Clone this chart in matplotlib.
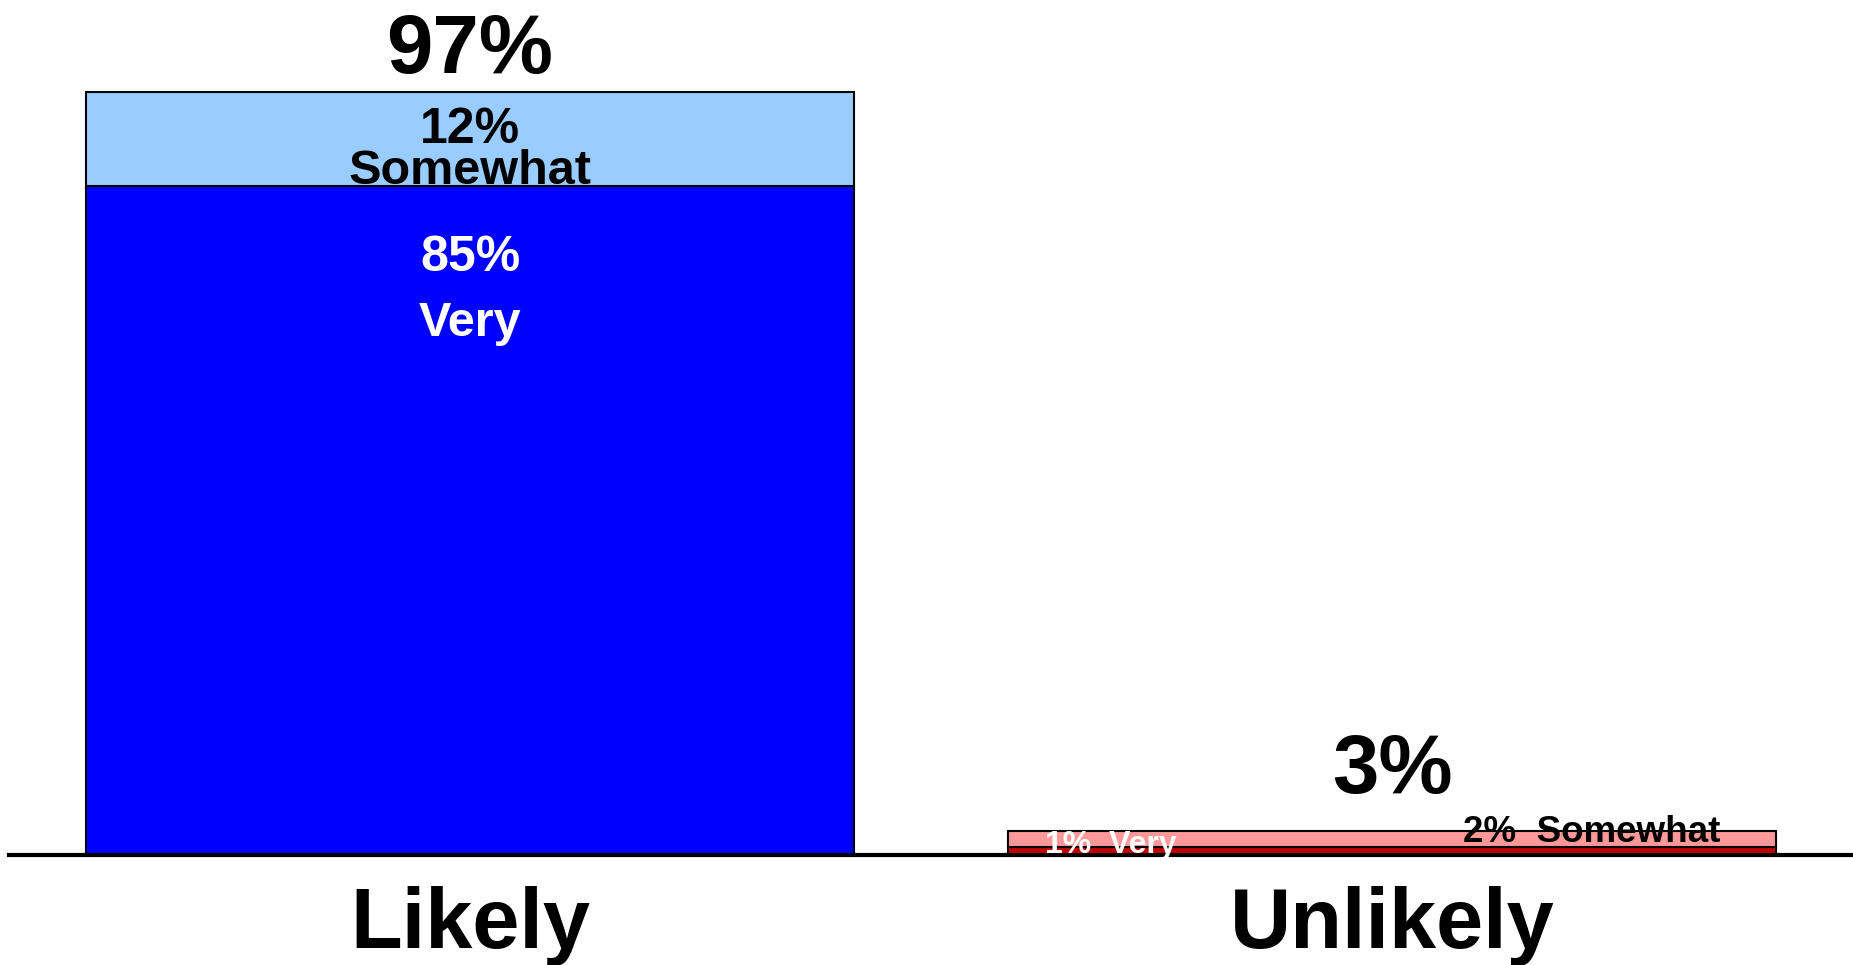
import matplotlib
matplotlib.use('Agg')
import matplotlib.pyplot as plt

plt.rcParams['font.family'] = ['Liberation Sans Narrow', 'Liberation Sans', 'DejaVu Sans']
plt.rcParams['font.weight'] = 'bold'

# Datos
categories = ['Likely', 'Unlikely']
very = [85, 1]
somewhat = [12, 2]
totals = [97, 3]
very_colors = ['#0000FF', '#C00000']
somewhat_colors = ['#99CCFF', '#FF9999']

fig = plt.figure(figsize=(18.53, 9.65), dpi=100)
ax = fig.add_axes([9 / 1853, 1 - 854.5 / 965, 1 - 9 / 1853, 854.5 / 965])

x = range(len(categories))
ax.bar(x, very, width=0.834, color=very_colors, edgecolor='black', linewidth=1.5)
ax.bar(x, somewhat, bottom=very, width=0.834, color=somewhat_colors,
       edgecolor='black', linewidth=1.5)

ax.set_xlim(-0.5, 1.5)
ax.set_ylim(0, 854.5 / 7.86)

# Etiquetas de la barra "Likely"
ax.annotate(f'{totals[0]}%', (0, totals[0]), xytext=(0, 14), textcoords='offset points',
            ha='center', va='baseline', fontsize=60)
ax.annotate(f'{somewhat[0]}%', (0, totals[0]), xytext=(0, -37), textcoords='offset points',
            ha='center', va='baseline', fontsize=36)
ax.annotate('Somewhat', (0, totals[0]), xytext=(0, -66), textcoords='offset points',
            ha='center', va='baseline', fontsize=35)
ax.annotate(f'{very[0]}%', (0, very[0]), xytext=(0, -61), textcoords='offset points',
            ha='center', va='baseline', fontsize=36, color='white')
ax.annotate('Very', (0, very[0]), xytext=(0, -108), textcoords='offset points',
            ha='center', va='baseline', fontsize=35, color='white')

# Etiquetas de la barra "Unlikely"
ax.annotate(f'{totals[1]}%', (1, totals[1]), xytext=(0, 27), textcoords='offset points',
            ha='center', va='baseline', fontsize=60)
ax.annotate(f'{very[1]}%  Very', (1 - 0.417, 0), xytext=(27, 1), textcoords='offset points',
            ha='left', va='baseline', fontsize=23, color='white', zorder=5)
ax.annotate(f'{somewhat[1]}%  Somewhat', (1, totals[1]), xytext=(144, -8), textcoords='offset points',
            ha='center', va='baseline', fontsize=26.5, zorder=5)

ax.set_xticks(list(x))
ax.set_xticklabels(categories, fontsize=61)
ax.tick_params(axis='x', length=0, pad=23)
ax.set_yticks([])
for s in ['top', 'right', 'left']:
    ax.spines[s].set_visible(False)
ax.spines['bottom'].set_linewidth(3)

fig.savefig('out.png', dpi=100)
